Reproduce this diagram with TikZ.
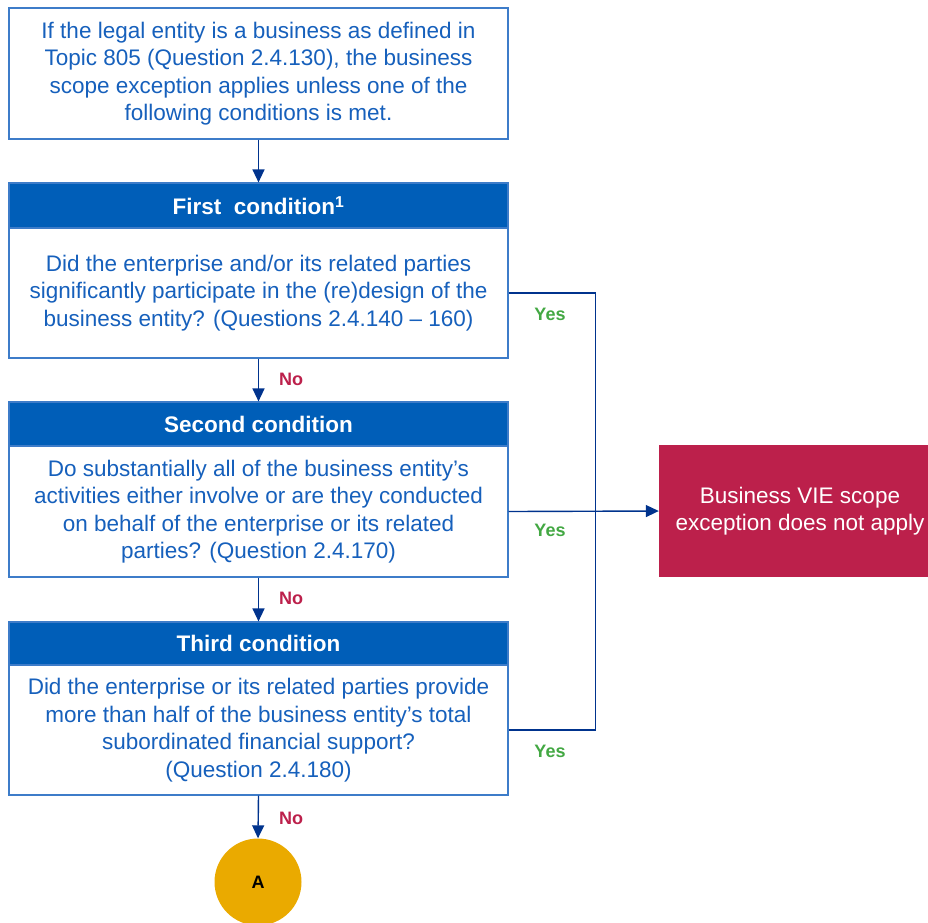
\documentclass[tikz,border=0pt]{standalone}
\usepackage{fontspec}
\setmainfont{Liberation Sans}
\usetikzlibrary{arrows.meta}
\definecolor{kblue}{HTML}{005EB8}
\definecolor{kdark}{HTML}{00338D}
\definecolor{ktext}{HTML}{1660BC}
\definecolor{kframe}{HTML}{3D7CC9}
\definecolor{kred}{HTML}{BC204B}
\definecolor{kgreen}{HTML}{43A843}
\definecolor{kgold}{HTML}{EAAA00}
\newcommand{\bodyfont}{\fontsize{22.5}{27.5}\selectfont}
\newcommand{\tagfont}{\fontsize{18}{20}\selectfont\bfseries}

\begin{document}
\begin{tikzpicture}[x=1pt,y=-1pt,
  box/.style={draw=kframe, line width=1.2pt, fill=white, text=ktext, align=center,
    minimum width=499pt, inner sep=0pt, font=\bodyfont},
  head/.style={draw=kframe, line width=1.2pt, fill=kblue, text=white,
    minimum width=499pt, inner sep=0pt, font=\bodyfont\bfseries},
  link/.style={draw=kdark, line width=1.4pt},
  arr/.style={link, -{Triangle[length=13pt,width=12pt]}},
  yes/.style={text=kgreen, font=\tagfont},
  no/.style={text=kred, font=\tagfont}]
\useasboundingbox (0,0) rectangle (928,922);

% Entree
\node[box, minimum height=131pt] (top) at (258.5,73.5)
  {If the legal entity is a business as defined in\\
   Topic 805 (Question 2.4.130), the business\\
   scope exception applies unless one of the\\
   following conditions is met.};

% Premiere condition
\node[head, minimum height=45pt] (h1) at (258.5,205.5) {First~~condition\textsuperscript{1}};
\node[box, minimum height=130pt] (b1) at (258.5,293)
  {Did the enterprise and/or its related parties\\
   significantly participate in the (re)design of the\\
   business entity? (Questions 2.4.140 -- 160)};

% Deuxieme condition
\node[head, minimum height=44pt] (h2) at (258.5,424) {Second condition};
\node[box, minimum height=131pt] (b2) at (258.5,511.5)
  {Do substantially all of the business entity’s\\
   activities either involve or are they conducted\\
   on behalf of the enterprise or its related\\
   parties? (Question 2.4.170)};

% Troisieme condition
\node[head, minimum height=43pt] (h3) at (258.5,643.5) {Third condition};
\node[box, minimum height=130pt] (b3) at (258.5,730)
  {Did the enterprise or its related parties provide\\
   more than half of the business entity’s total\\
   subordinated financial support?\\
   (Question 2.4.180)};

% Sorties
\node[fill=kred, text=white, align=center, minimum width=282pt, minimum height=132pt,
  inner sep=0pt, font=\bodyfont] (vie) at (800,511)
  {Business VIE scope\\exception does not apply};
\node[circle, fill=kgold, minimum size=87pt, inner sep=0pt,
  font=\tagfont] (A) at (258,882) {A};

% Fleches
\draw[arr] (top.south) -- (h1.north);
\draw[arr] (b1.south) -- (h2.north);
\draw[arr] (b2.south) -- (h3.north);
\draw[arr] (b3.south) -- (A.north);
\draw[link] (b1.east) -- ++(87,0) |- (b3.east);
\draw[arr] (b2.east) -- (vie.west);

\node[no] (no1) at (291,379) {No};
\node[no] (no2) at (291,598) {No};
\node[no] (no3) at (291,818) {No};
\node[yes] (yes1) at (550,314) {Yes};
\node[yes] (yes2) at (550,530) {Yes};
\node[yes] (yes3) at (550,751) {Yes};
\end{tikzpicture}
\end{document}
